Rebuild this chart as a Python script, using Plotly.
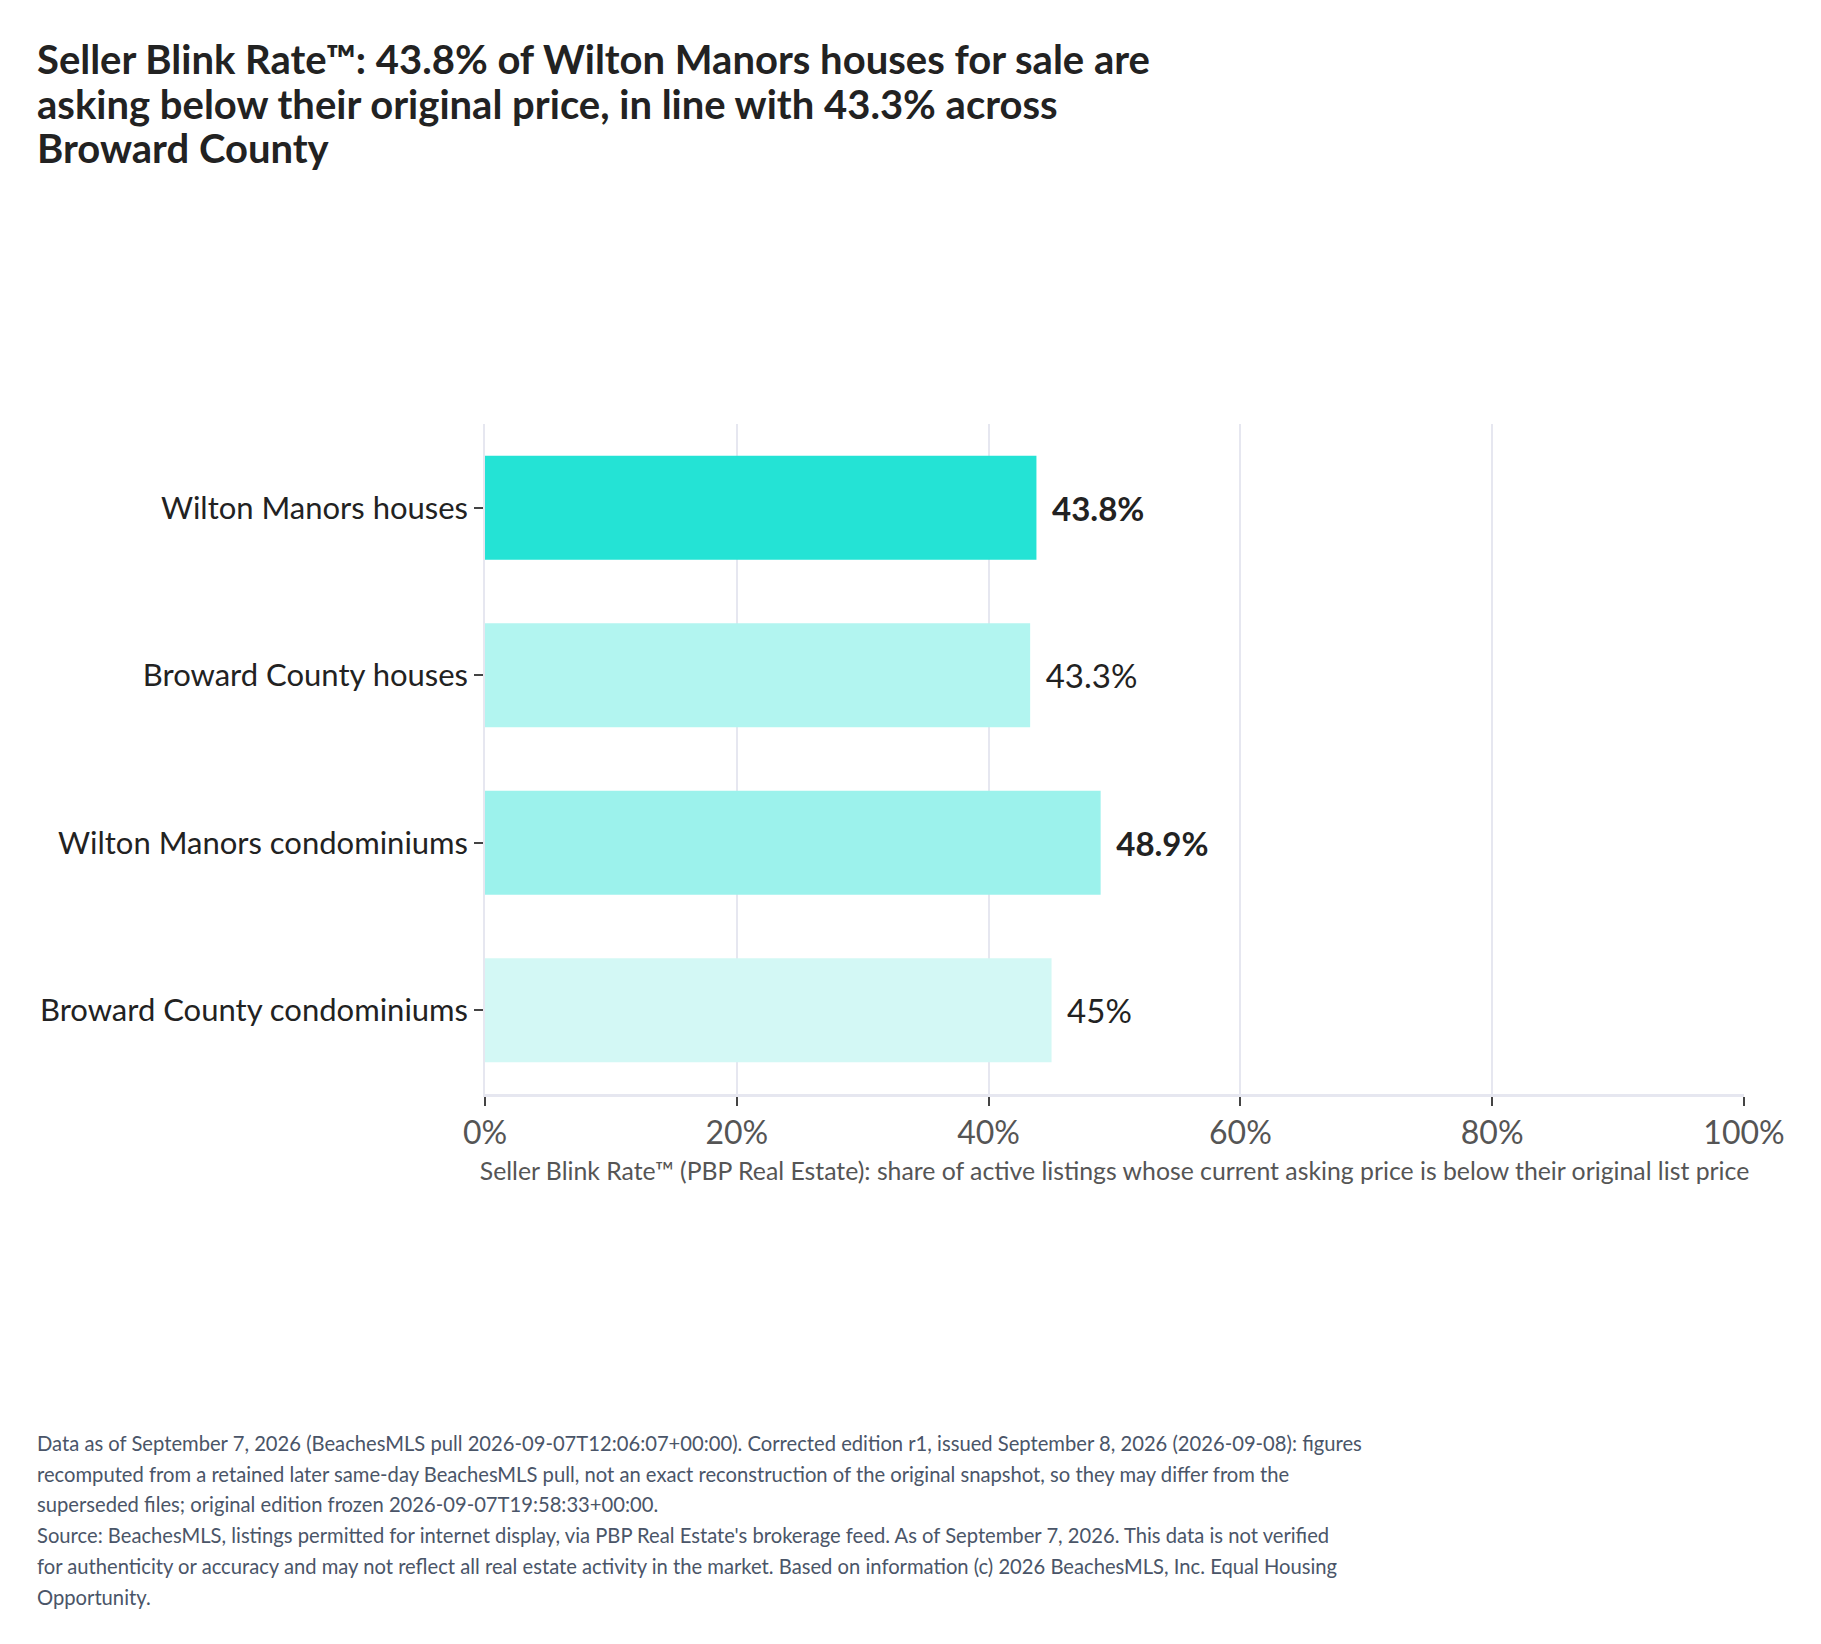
import plotly.graph_objects as go

# Seller Blink Rate bar chart: Wilton Manors vs Broward County

categories = ["Wilton Manors houses", "Broward County houses",
              "Wilton Manors condominiums", "Broward County condominiums"]
blink_rate = [43.8, 43.3, 48.9, 45]
highlight = [True, False, True, False]
bar_colors = ["#24E3D5", "#B2F5F0", "#9CF2EC", "#D3F8F5"]
x_ticks = [0, 20, 40, 60, 80, 100]
x_tick_labels = ["0%", "20%", "40%", "60%", "80%", "100%"]

title_lines = [
    "Seller Blink Rate™: 43.8% of Wilton Manors houses for sale are",
    "asking below their original price, in line with 43.3% across",
    "Broward County",
]

footnote_lines = [
    "Data as of September 7, 2026 (BeachesMLS pull 2026-09-07T12:06:07+00:00). Corrected edition r1, issued September 8, 2026 (2026-09-08): figures",
    "recomputed from a retained later same-day BeachesMLS pull, not an exact reconstruction of the original snapshot, so they may differ from the",
    "superseded files; original edition frozen 2026-09-07T19:58:33+00:00.",
    "Source: BeachesMLS, listings permitted for internet display, via PBP Real Estate's brokerage feed. As of September 7, 2026. This data is not verified",
    "for authenticity or accuracy and may not reflect all real estate activity in the market. Based on information (c) 2026 BeachesMLS, Inc. Equal Housing",
    "Opportunity.",
]

FONT = "Lato"
GRID = "#E6E7F0"
PLOT_W = 1259
LEFT_X = -450 / PLOT_W   # left edge of title and footnote, in paper units


def fmt(v, bold):
    s = f"{v:g}%"
    pad = "\u00a0\u2009"
    return pad + "<b>" + s + "</b>" if bold else pad + s


def main():
    labels = [fmt(v, b) for v, b in zip(blink_rate, highlight)]

    fig = go.Figure(go.Bar(
        x=blink_rate, y=categories, orientation="h",
        marker=dict(color=bar_colors, line=dict(width=0)),
        text=labels, textposition="outside", cliponaxis=False,
        textfont=dict(family=FONT, size=33, color="#222222"),
        hoverinfo="skip",
    ))

    fig.update_layout(
        width=1821, height=1644,
        paper_bgcolor="white", plot_bgcolor="white",
        font=dict(family=FONT, color="#222222"),
        margin=dict(l=477, r=85, t=416, b=558),
        bargap=0.38,
        showlegend=False,
    )

    fig.update_xaxes(
        range=[0, 100], tickvals=x_ticks, ticktext=x_tick_labels,
        showgrid=True, gridcolor=GRID, gridwidth=1.5,
        zeroline=False,
        showline=True, linecolor=GRID, linewidth=3,
        ticks="outside", ticklen=9, tickcolor="#444444", tickwidth=1.5,
        tickfont=dict(family=FONT, size=32, color="#555555"),
        title=dict(text="Seller Blink Rate™ (PBP Real Estate): share of active listings whose current asking price is below their original list price",
                   font=dict(family=FONT, size=24.8, color="#555555"), standoff=13),
    )
    fig.update_yaxes(
        categoryorder="array", categoryarray=categories, autorange="reversed",
        showgrid=False, showline=True, linecolor=GRID, linewidth=1.5,
        ticks="outside", ticklen=9, tickcolor="#444444", tickwidth=1.5,
        tickfont=dict(family=FONT, size=31, color="#222222"),
    )

    # title, one line per annotation so the line spacing can be tighter
    for i, line in enumerate(title_lines):
        fig.add_annotation(
            text="<b>" + line + "</b>", xref="paper", yref="paper",
            x=LEFT_X, xanchor="left",
            y=1, yanchor="middle", yshift=365 - i * 44.5,
            showarrow=False, align="left",
            font=dict(family=FONT, size=40, color="#222222"),
        )

    # footnote, one annotation per line for the wider line spacing
    for i, line in enumerate(footnote_lines):
        fig.add_annotation(
            text=line, xref="paper", yref="paper",
            x=LEFT_X, xanchor="left",
            y=0, yanchor="middle", yshift=-349 - i * 30.7,
            showarrow=False, align="left",
            font=dict(family=FONT, size=20.2, color="#4A5568"),
        )

    fig.write_html("out.html")


if __name__ == "__main__":
    main()
